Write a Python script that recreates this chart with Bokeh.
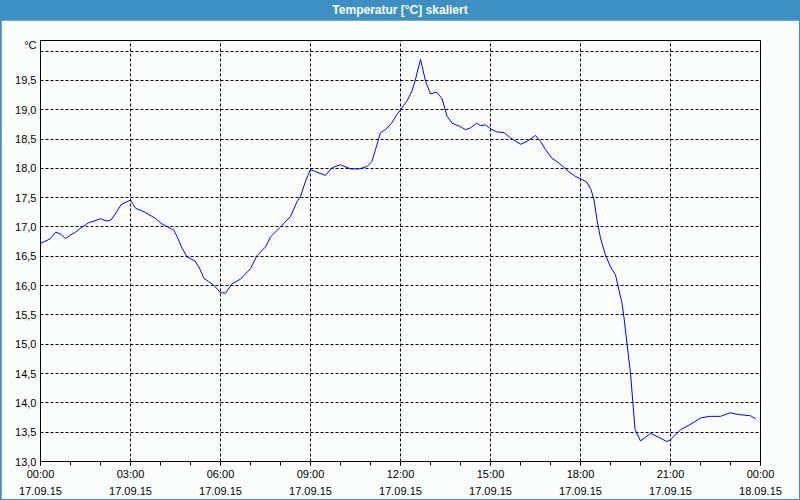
from bokeh.plotting import figure
from bokeh.models import Range1d, FixedTicker, CustomJSTickFormatter, Div
from bokeh.layouts import column
from bokeh.embed import file_html
from bokeh.resources import INLINE

TITLE = "Temperatur [°C] skaliert"
UNIT = "°C"

times = ["00:00", "00:20", "00:30", "00:40", "00:50", "01:03", "01:10", "01:20", "01:36", "02:00",
         "02:13", "02:21", "02:31", "02:41", "03:00", "03:10", "03:29", "03:49", "04:03", "04:26",
         "04:33", "04:43", "04:53", "05:09", "05:19", "05:27", "05:36", "05:46", "06:00", "06:10",
         "06:23", "06:40", "07:00", "07:13", "07:30", "07:40", "08:00", "08:20", "08:33", "08:40",
         "08:50", "09:00", "09:17", "09:30", "09:43", "10:00", "10:20", "10:37", "10:53", "11:03",
         "11:10", "11:20", "11:30", "11:43", "11:53", "12:00", "12:13", "12:23", "12:30", "12:40",
         "12:50", "13:00", "13:12", "13:23", "13:33", "13:43", "14:00", "14:10", "14:20", "14:32",
         "14:40", "14:50", "15:03", "15:13", "15:27", "15:40", "16:00", "16:13", "16:30", "16:40",
         "16:50", "17:03", "17:17", "17:37", "17:50", "18:01", "18:13", "18:21", "18:27", "18:33",
         "18:40", "18:50", "19:00", "19:10", "19:17", "19:23", "19:27", "19:33", "19:40", "19:45",
         "19:49", "20:00", "20:20", "20:37", "20:53", "21:00", "21:20", "21:43", "22:00", "22:17",
         "22:40", "22:59", "23:17", "23:40", "23:50"]
temps = [16.72, 16.80, 16.91, 16.88, 16.80, 16.88, 16.91, 16.98, 17.07, 17.14,
         17.10, 17.12, 17.24, 17.38, 17.46, 17.32, 17.25, 17.15, 17.05, 16.95,
         16.84, 16.64, 16.49, 16.42, 16.28, 16.12, 16.07, 16.01, 15.88, 15.87,
         16.03, 16.11, 16.29, 16.51, 16.66, 16.83, 17.00, 17.18, 17.43, 17.52,
         17.78, 17.98, 17.92, 17.88, 18.01, 18.06, 17.99, 17.99, 18.03, 18.12,
         18.32, 18.61, 18.66, 18.78, 18.92, 19.00, 19.15, 19.32, 19.52, 19.86,
         19.49, 19.27, 19.30, 19.19, 18.89, 18.77, 18.71, 18.66, 18.69, 18.77,
         18.73, 18.74, 18.66, 18.62, 18.61, 18.52, 18.41, 18.46, 18.56, 18.46,
         18.32, 18.17, 18.09, 17.94, 17.86, 17.82, 17.76, 17.64, 17.46, 17.12,
         16.81, 16.52, 16.32, 16.18, 15.92, 15.70, 15.45, 15.01, 14.50, 13.98,
         13.55, 13.35, 13.48, 13.41, 13.34, 13.37, 13.54, 13.65, 13.74, 13.77,
         13.77, 13.83, 13.80, 13.78, 13.73]

x_ticks = [0, 3, 6, 9, 12, 15, 18, 21, 24]
x_tick_times = ["00:00", "03:00", "06:00", "09:00", "12:00", "15:00", "18:00", "21:00", "00:00"]
x_tick_dates = ["17.09.15"] * 8 + ["18.09.15"]
x_minor = list(range(0, 25))
y_ticks = [13.0, 13.5, 14.0, 14.5, 15.0, 15.5, 16.0, 16.5, 17.0, 17.5, 18.0, 18.5, 19.0, 19.5, 20.0]
UNIT_POS = 20.1  # where the unit text sits on the y axis

hours = [int(t[:2]) + int(t[3:]) / 60 for t in times]

FONT = "Liberation Sans"
BLUE = "#3D8FC4"
BG = "#FBFDFC"

p = figure(width=798, height=479, output_backend="svg", toolbar_location=None,
           x_range=Range1d(0, 24), y_range=Range1d(13, 20.18),
           min_border_left=39, min_border_right=39, min_border_top=20, min_border_bottom=38,
           background_fill_color=BG, border_fill_color=BG, margin=(0, 1, 1, 1))
p.outline_line_color = "black"
p.outline_line_width = 1

p.line(hours, temps, line_color="#0000FF", line_width=1)

p.xaxis.ticker = FixedTicker(ticks=x_ticks, minor_ticks=x_minor)
p.xaxis.major_label_overrides = {t: a + "\n" + b for t, a, b in zip(x_ticks, x_tick_times, x_tick_dates)}
p.xaxis.major_tick_out = 4
p.xaxis.major_tick_in = 0
p.xaxis.minor_tick_out = 4
p.xaxis.minor_tick_in = 0
p.xaxis.axis_line_color = "black"
p.xaxis.major_label_standoff = 2
p.xaxis.major_label_text_font = FONT
p.xaxis.major_label_text_font_size = "11px"
p.xaxis.major_label_text_color = "black"
p.xaxis.major_label_text_line_height = 1.45

p.yaxis.ticker = FixedTicker(ticks=y_ticks + [UNIT_POS], minor_ticks=[])
p.yaxis.formatter = CustomJSTickFormatter(
    args=dict(unit=UNIT),
    code="if (tick > 20.05) return unit; if (tick >= 19.99) return ''; return tick.toFixed(1).replace('.', ',');")
p.yaxis.major_tick_out = 0
p.yaxis.major_tick_in = 0
p.yaxis.minor_tick_out = 0
p.yaxis.major_label_standoff = 4
p.yaxis.major_label_text_font = FONT
p.yaxis.major_label_text_font_size = "11px"
p.yaxis.major_label_text_color = "black"

p.xgrid.ticker = FixedTicker(ticks=x_ticks, minor_ticks=[])
p.ygrid.ticker = FixedTicker(ticks=y_ticks, minor_ticks=[])
for g in (p.xgrid, p.ygrid):
    g.grid_line_color = "black"
    g.grid_line_dash = "3 2"
    g.grid_line_width = 1

title = Div(text=TITLE, width=800, height=20, margin=(0, 0, 0, 0),
            styles={"background-color": BLUE, "color": "white", "font-weight": "bold",
                    "font-family": FONT, "font-size": "12px", "text-align": "center",
                    "line-height": "20px"})

layout = column(title, p, spacing=0, margin=(0, 0, 0, 0),
                styles={"background-color": BLUE})

open("out.html", "w").write(file_html(layout, INLINE))
